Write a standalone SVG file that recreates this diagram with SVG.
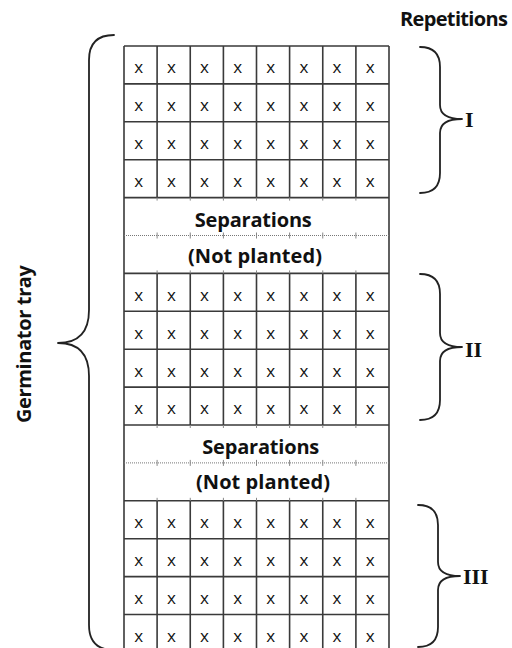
<svg xmlns="http://www.w3.org/2000/svg" width="512" height="648" viewBox="0 0 512 648">
<style>
.bg{fill:#fff}
.grid{fill:none;stroke:#3a3a3a;stroke-width:1.6}
.dot{fill:none;stroke:#777;stroke-width:1;stroke-dasharray:1 1}
.tick{fill:none;stroke:#888;stroke-width:1}
.brace{fill:none;stroke:#222;stroke-width:1.8;stroke-linecap:round;stroke-linejoin:round}
.x{font-family:"Open Sans","Liberation Sans",sans-serif;font-size:17px;fill:#111;text-anchor:middle}
.lbl{font-family:"Open Sans","Liberation Sans",sans-serif;font-size:20px;font-weight:bold;fill:#111}
.rom{font-family:"Liberation Serif","Times New Roman",serif;font-size:22px;font-weight:bold;fill:#111}
</style>
<rect class="bg" x="0" y="0" width="512" height="648"/>

<g id="tray-grid">
<path class="grid" d="M124,46H389M124,83.9H389M124,121.8H389M124,159.7H389M124,197.6H389
M124,273.4H389M124,311.3H389M124,349.2H389M124,387.1H389M124,425H389
M124,500.8H389M124,538.7H389M124,576.6H389M124,614.5H389M124,652.4H389
M124,46V652.4M389,46V652.4
M157.1,46V197.6M190.25,46V197.6M223.4,46V197.6M256.5,46V197.6M289.6,46V197.6M322.75,46V197.6M355.9,46V197.6
M157.1,273.4V425M190.25,273.4V425M223.4,273.4V425M256.5,273.4V425M289.6,273.4V425M322.75,273.4V425M355.9,273.4V425
M157.1,500.8V652.4M190.25,500.8V652.4M223.4,500.8V652.4M256.5,500.8V652.4M289.6,500.8V652.4M322.75,500.8V652.4M355.9,500.8V652.4"/>
<path class="dot" d="M124,235.5H389M124,462.9H389"/>
<path class="tick" d="M157.1,197.6v3M190.25,197.6v3M223.4,197.6v3M256.5,197.6v3M289.6,197.6v3M322.75,197.6v3M355.9,197.6v3
M157.1,232.5v6M190.25,232.5v6M223.4,232.5v6M256.5,232.5v6M289.6,232.5v6M322.75,232.5v6M355.9,232.5v6
M157.1,270.4v3M190.25,270.4v3M223.4,270.4v3M256.5,270.4v3M289.6,270.4v3M322.75,270.4v3M355.9,270.4v3
M157.1,425v3M190.25,425v3M223.4,425v3M256.5,425v3M289.6,425v3M322.75,425v3M355.9,425v3
M157.1,459.9v6M190.25,459.9v6M223.4,459.9v6M256.5,459.9v6M289.6,459.9v6M322.75,459.9v6M355.9,459.9v6
M157.1,497.8v3M190.25,497.8v3M223.4,497.8v3M256.5,497.8v3M289.6,497.8v3M322.75,497.8v3M355.9,497.8v3"/>
</g>

<g id="rep-I-cells">
<text class="x" x="138.8" y="72.5" font-size="16">x</text>
<text class="x" x="171.4 204.5 237.6 270.8 303.9 337.0 370.1" y="73">xxxxxxx</text>
<text class="x" x="138.8 171.4 204.5 237.6 270.8 303.9 337.0 370.1" y="111.2">xxxxxxxx</text>
<text class="x" x="138.8 171.4 204.5 237.6 270.8 303.9 337.0 370.1" y="149.1">xxxxxxxx</text>
<text class="x" x="138.8 171.4 204.5 237.6 270.8 303.9 337.0 370.1" y="187">xxxxxxxx</text>
</g>

<g id="separation-1">
<text class="lbl" x="253.3" y="226.5" text-anchor="middle" textLength="117">Separations</text>
<text class="lbl" x="255" y="262.5" text-anchor="middle" textLength="134">(Not planted)</text>
</g>

<g id="rep-II-cells">
<text class="x" x="138.8 171.4 204.5 237.6 270.8 303.9 337.0 370.1" y="300.7">xxxxxxxx</text>
<text class="x" x="138.8 171.4 204.5 237.6 270.8 303.9 337.0 370.1" y="338.6">xxxxxxxx</text>
<text class="x" x="138.8 171.4 204.5 237.6 270.8 303.9 337.0 370.1" y="376.5">xxxxxxxx</text>
<text class="x" x="138.8 171.4 204.5 237.6 270.8 303.9 337.0 370.1" y="414.4">xxxxxxxx</text>
</g>

<g id="separation-2">
<text class="lbl" x="260.8" y="454" text-anchor="middle" textLength="117">Separations</text>
<text class="lbl" x="263" y="489.3" text-anchor="middle" textLength="134">(Not planted)</text>
</g>

<g id="rep-III-cells">
<text class="x" x="138.8 171.4 204.5 237.6 270.8 303.9 337.0 370.1" y="528.1">xxxxxxxx</text>
<text class="x" x="138.8 171.4 204.5 237.6 270.8 303.9 337.0 370.1" y="566">xxxxxxxx</text>
<text class="x" x="138.8 171.4 204.5 237.6 270.8 303.9 337.0 370.1" y="603.9">xxxxxxxx</text>
<text class="x" x="138.8 171.4 204.5 237.6 270.8 303.9 337.0 370.1" y="641.8">xxxxxxxx</text>
</g>

<g id="connectors">
<path class="brace" d="M114,35 Q89,35 89,60 L89,310 Q89,343 58,343 Q89,343 89,376 L89,625 Q89,650 114,650"/>
<path class="brace" d="M420,47 Q440,47 440,67 L440,105 Q440,119 462,119 Q440,119 440,133 L440,173 Q440,193 420,193"/>
<path class="brace" d="M420,274 Q440,274 440,294 L440,333 Q440,347 462,347 Q440,347 440,361 L440,400 Q440,420 420,420"/>
<path class="brace" d="M418,505 Q438,505 438,525 L438,562 Q438,576 460,576 Q438,576 438,590 L438,627 Q438,647 418,647"/>
</g>

<g id="label-germinator">
<text class="lbl" transform="translate(31,344) rotate(-90)" x="0" y="0" text-anchor="middle" textLength="158">Germinator tray</text>
</g>
<g id="label-repetitions">
<text class="lbl" x="400" y="25.7" textLength="108">Repetitions</text>
</g>
<g id="label-I"><text class="rom" x="465" y="126.7">I</text></g>
<g id="label-II"><text class="rom" x="465" y="356.7">II</text></g>
<g id="label-III"><text class="rom" x="463" y="584">III</text></g>
</svg>
